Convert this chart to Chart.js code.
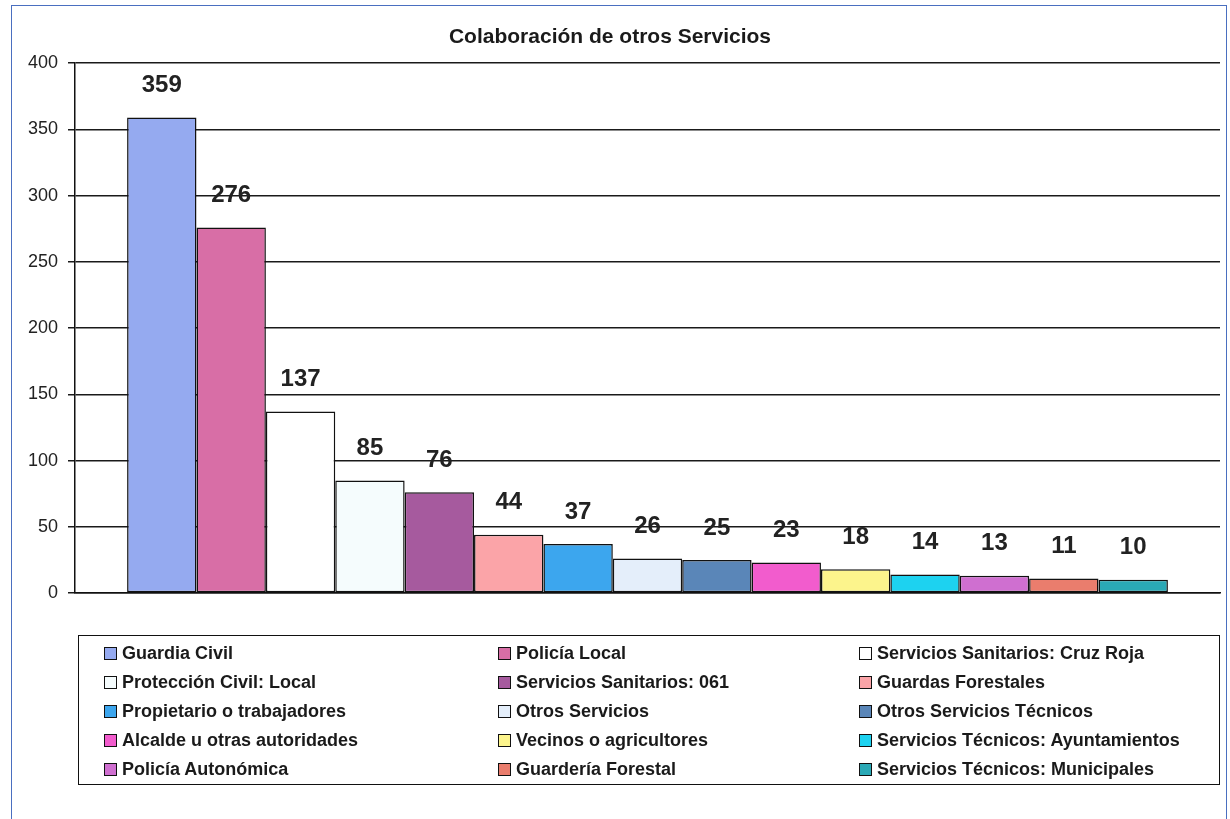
<!DOCTYPE html>
<html>
<head>
<meta charset="utf-8">
<script src="https://cdn.jsdelivr.net/npm/chart.js@4/dist/chart.umd.min.js"></script>
<style>
    body { margin: 0; background: #fff; font-family: Arial, "Liberation Sans", sans-serif; }
    #wrap { position: relative; width: 1230px; height: 819px; overflow: hidden; }
    #frame { position: absolute; left: 11px; top: 5px; width: 1214px; height: 840px; border: 1.5px solid #4a6fc0; }
    #chart { position: absolute; left: 0; top: 0; }
    #legend { position: absolute; left: 78px; top: 635px; width: 1142px; height: 150px; border: 1.5px solid #111; box-sizing: border-box; }
    .item { position: absolute; display: flex; align-items: center; height: 20px; font-size: 18px; font-weight: bold; color: #1a1a1a; white-space: nowrap; }
    .box { width: 11px; height: 11px; border: 1.5px solid #111; margin-right: 5px; }
</style>
</head>
<body>
<div id="wrap">
    <div id="frame"></div>
    <canvas id="chart" width="1230" height="819"></canvas>
    <div id="legend"></div>
</div>
<script>
const services = [
    'Guardia Civil', 'Policía Local', 'Servicios Sanitarios: Cruz Roja',
    'Protección Civil: Local', 'Servicios Sanitarios: 061', 'Guardas Forestales',
    'Propietario o trabajadores', 'Otros Servicios', 'Otros Servicios Técnicos',
    'Alcalde u otras autoridades', 'Vecinos o agricultores', 'Servicios Técnicos: Ayuntamientos',
    'Policía Autonómica', 'Guardería Forestal', 'Servicios Técnicos: Municipales'
];
const counts = [359, 276, 137, 85, 76, 44, 37, 26, 25, 23, 18, 14, 13, 11, 10];
const colors = [
    '#95aaf0', '#d86ea6', '#ffffff',
    '#f5fcfd', '#a65a9e', '#fba4a8',
    '#3ca6ee', '#e4eefa', '#5a86b8',
    '#f25ccd', '#fcf48c', '#1dd2f0',
    '#cf6fd0', '#ea7d6d', '#2aa9b6'
];
const yTicks = [0, 50, 100, 150, 200, 250, 300, 350, 400];

// Etiquetas de valor encima de cada barra
const valueLabels = {
    id: 'valueLabels',
    afterDatasetsDraw(chart) {
        const ctx = chart.ctx;
        ctx.save();
        ctx.font = 'bold 24px Arial, "Liberation Sans", sans-serif';
        ctx.fillStyle = '#222';
        ctx.textAlign = 'center';
        ctx.textBaseline = 'middle';
        chart.data.datasets.forEach((ds, i) => {
            const bar = chart.getDatasetMeta(i).data[0];
            ctx.fillText(ds.data[0], bar.x, bar.y - 32);
        });
        ctx.restore();
    }
};

new Chart(document.getElementById('chart').getContext('2d'), {
    type: 'bar',
    data: {
        labels: [''],
        datasets: services.map((name, i) => ({
            label: name,
            data: [counts[i]],
            backgroundColor: colors[i],
            borderColor: '#111',
            borderWidth: 1.5,
            borderSkipped: false
        }))
    },
    options: {
        responsive: false,
        animation: false,
        devicePixelRatio: 1,
        categoryPercentage: 0.909,
        barPercentage: 1,
        layout: { padding: { left: 0, right: 10, top: 0, bottom: 226 } },
        plugins: {
            legend: { display: false },
            tooltip: { enabled: false },
            title: {
                display: true,
                text: 'Colaboración de otros Servicios',
                color: '#1a1a1a',
                font: { family: 'Arial, "Liberation Sans", sans-serif', size: 21, weight: 'bold' },
                padding: { top: 25, bottom: 13 }
            }
        },
        scales: {
            x: {
                ticks: { display: false },
                grid: { display: false },
                border: { display: true, color: '#111', width: 1.5 },
                afterFit(scale) { scale.height = 0; }
            },
            y: {
                min: 0,
                max: 400,
                afterBuildTicks(scale) { scale.ticks = yTicks.map(v => ({ value: v })); },
                afterFit(scale) { scale.width = 75; },
                ticks: {
                    color: '#222',
                    padding: 10,
                    font: { family: 'Arial, "Liberation Sans", sans-serif', size: 18 }
                },
                grid: { color: '#1a1a1a', lineWidth: 1.5, tickLength: 7 },
                border: { display: true, color: '#111', width: 1.5 }
            }
        }
    },
    plugins: [valueLabels]
});

// Leyenda en tres columnas
const legendEl = document.getElementById('legend');
const colX = [25, 419, 780];
legendEl.innerHTML = services.map((name, i) => `
    <div class="item" style="left:${colX[i % 3]}px; top:${7 + Math.floor(i / 3) * 29}px">
        <div class="box" style="background:${colors[i]}"></div><span>${name}</span>
    </div>`).join('');
</script>
</body>
</html>
